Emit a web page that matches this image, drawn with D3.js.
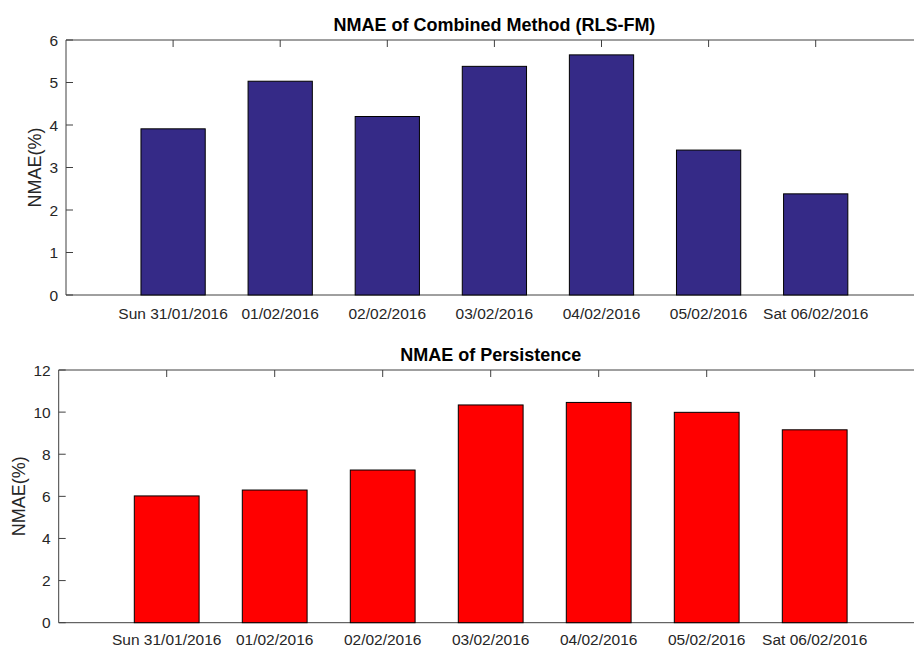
<!DOCTYPE html>
<html>
<head>
<meta charset="utf-8">
<script src="https://cdn.jsdelivr.net/npm/d3@7"></script>
<style>
  html, body { margin: 0; padding: 0; background: #fff; }
  svg { display: block; }
  text { font-family: "Liberation Sans", Arial, Helvetica, sans-serif; }
</style>
</head>
<body>
<div id="chart"></div>
<script>
const categories = ["Sun 31/01/2016", "01/02/2016", "02/02/2016", "03/02/2016", "04/02/2016", "05/02/2016", "Sat 06/02/2016"];
const combinedValues = [3.91, 5.03, 4.20, 5.38, 5.65, 3.41, 2.38];
const persistenceValues = [6.02, 6.30, 7.25, 10.34, 10.46, 9.99, 9.16];
const combinedTicks = [0, 1, 2, 3, 4, 5, 6];
const persistenceTicks = [0, 2, 4, 6, 8, 10, 12];

const W = 914, H = 648;
const svg = d3.select("#chart").append("svg").attr("width", W).attr("height", H);

const panels = [
  { title: "NMAE of Combined Method (RLS-FM)", values: combinedValues, ticks: combinedTicks, ymax: 6,
    left: 66, top: 40, bottom: 295, step: 107.1, color: "#352a87", titleY: 31, xLabelY: 319, yLabelX: 40.7, yTickGap: 8 },
  { title: "NMAE of Persistence", values: persistenceValues, ticks: persistenceTicks, ymax: 12,
    left: 58.7, top: 370, bottom: 622.7, step: 108, color: "#ff0000", titleY: 361, xLabelY: 645, yLabelX: 25, yTickGap: 8 }
];

panels.forEach(p => {
  const right = p.left + p.step * (categories.length + 1);
  const x = d3.scaleLinear().domain([0, categories.length + 1]).range([p.left, right]);
  const y = d3.scaleLinear().domain([0, p.ymax]).range([p.bottom, p.top]);
  const g = svg.append("g");
  const barW = p.step * 0.6;
  const axisColor = "#404040";

  // axis layer below data (MATLAB default layer)
  g.selectAll("line.xtickb").data(categories).enter().append("line")
    .attr("x1", (d, i) => x(i + 1)).attr("x2", (d, i) => x(i + 1))
    .attr("y1", p.bottom).attr("y2", p.bottom - 7)
    .attr("stroke", axisColor);
  g.selectAll("line.xtick").data(categories).enter().append("line")
    .attr("x1", (d, i) => x(i + 1)).attr("x2", (d, i) => x(i + 1))
    .attr("y1", p.top).attr("y2", p.top + 7)
    .attr("stroke", axisColor);
  g.selectAll("line.ytick").data(p.ticks).enter().append("line")
    .attr("x1", p.left).attr("x2", p.left + 7)
    .attr("y1", d => y(d)).attr("y2", d => y(d))
    .attr("stroke", axisColor);
  g.append("line").attr("x1", p.left).attr("x2", right).attr("y1", p.bottom).attr("y2", p.bottom)
    .attr("stroke", axisColor).attr("stroke-width", 1);
  g.append("line").attr("x1", p.left).attr("x2", right).attr("y1", p.top).attr("y2", p.top)
    .attr("stroke", axisColor).attr("stroke-width", 1);
  g.append("line").attr("x1", p.left).attr("x2", p.left).attr("y1", p.top).attr("y2", p.bottom)
    .attr("stroke", axisColor).attr("stroke-width", 1);

  // bars
  g.selectAll("rect.bar").data(p.values).enter().append("rect")
    .attr("class", "bar")
    .attr("x", (d, i) => x(i + 1) - barW / 2)
    .attr("y", d => y(d))
    .attr("width", barW)
    .attr("height", d => y(0) - y(d))
    .attr("fill", p.color)
    .attr("stroke", "#000")
    .attr("stroke-width", 1);

  // y tick labels
  g.selectAll("text.ytl").data(p.ticks).enter().append("text")
    .attr("x", p.left - p.yTickGap).attr("y", d => y(d))
    .attr("dy", "0.36em")
    .attr("text-anchor", "end")
    .attr("font-size", "15.5px")
    .attr("fill", "#262626")
    .text(d => d);

  // x tick labels
  g.selectAll("text.xtl").data(categories).enter().append("text")
    .attr("x", (d, i) => x(i + 1)).attr("y", p.xLabelY)
    .attr("text-anchor", "middle")
    .attr("font-size", "15.5px")
    .attr("fill", "#262626")
    .text(d => d);

  // title
  g.append("text")
    .attr("x", (p.left + right) / 2).attr("y", p.titleY)
    .attr("text-anchor", "middle")
    .attr("font-size", "18px")
    .attr("font-weight", "bold")
    .attr("fill", "#000")
    .text(p.title);

  // y label
  g.append("text")
    .attr("transform", `translate(${p.yLabelX},${(p.top + p.bottom) / 2}) rotate(-90)`)
    .attr("text-anchor", "middle")
    .attr("font-size", "18px")
    .attr("fill", "#262626")
    .text("NMAE(%)");
});
</script>
</body>
</html>
